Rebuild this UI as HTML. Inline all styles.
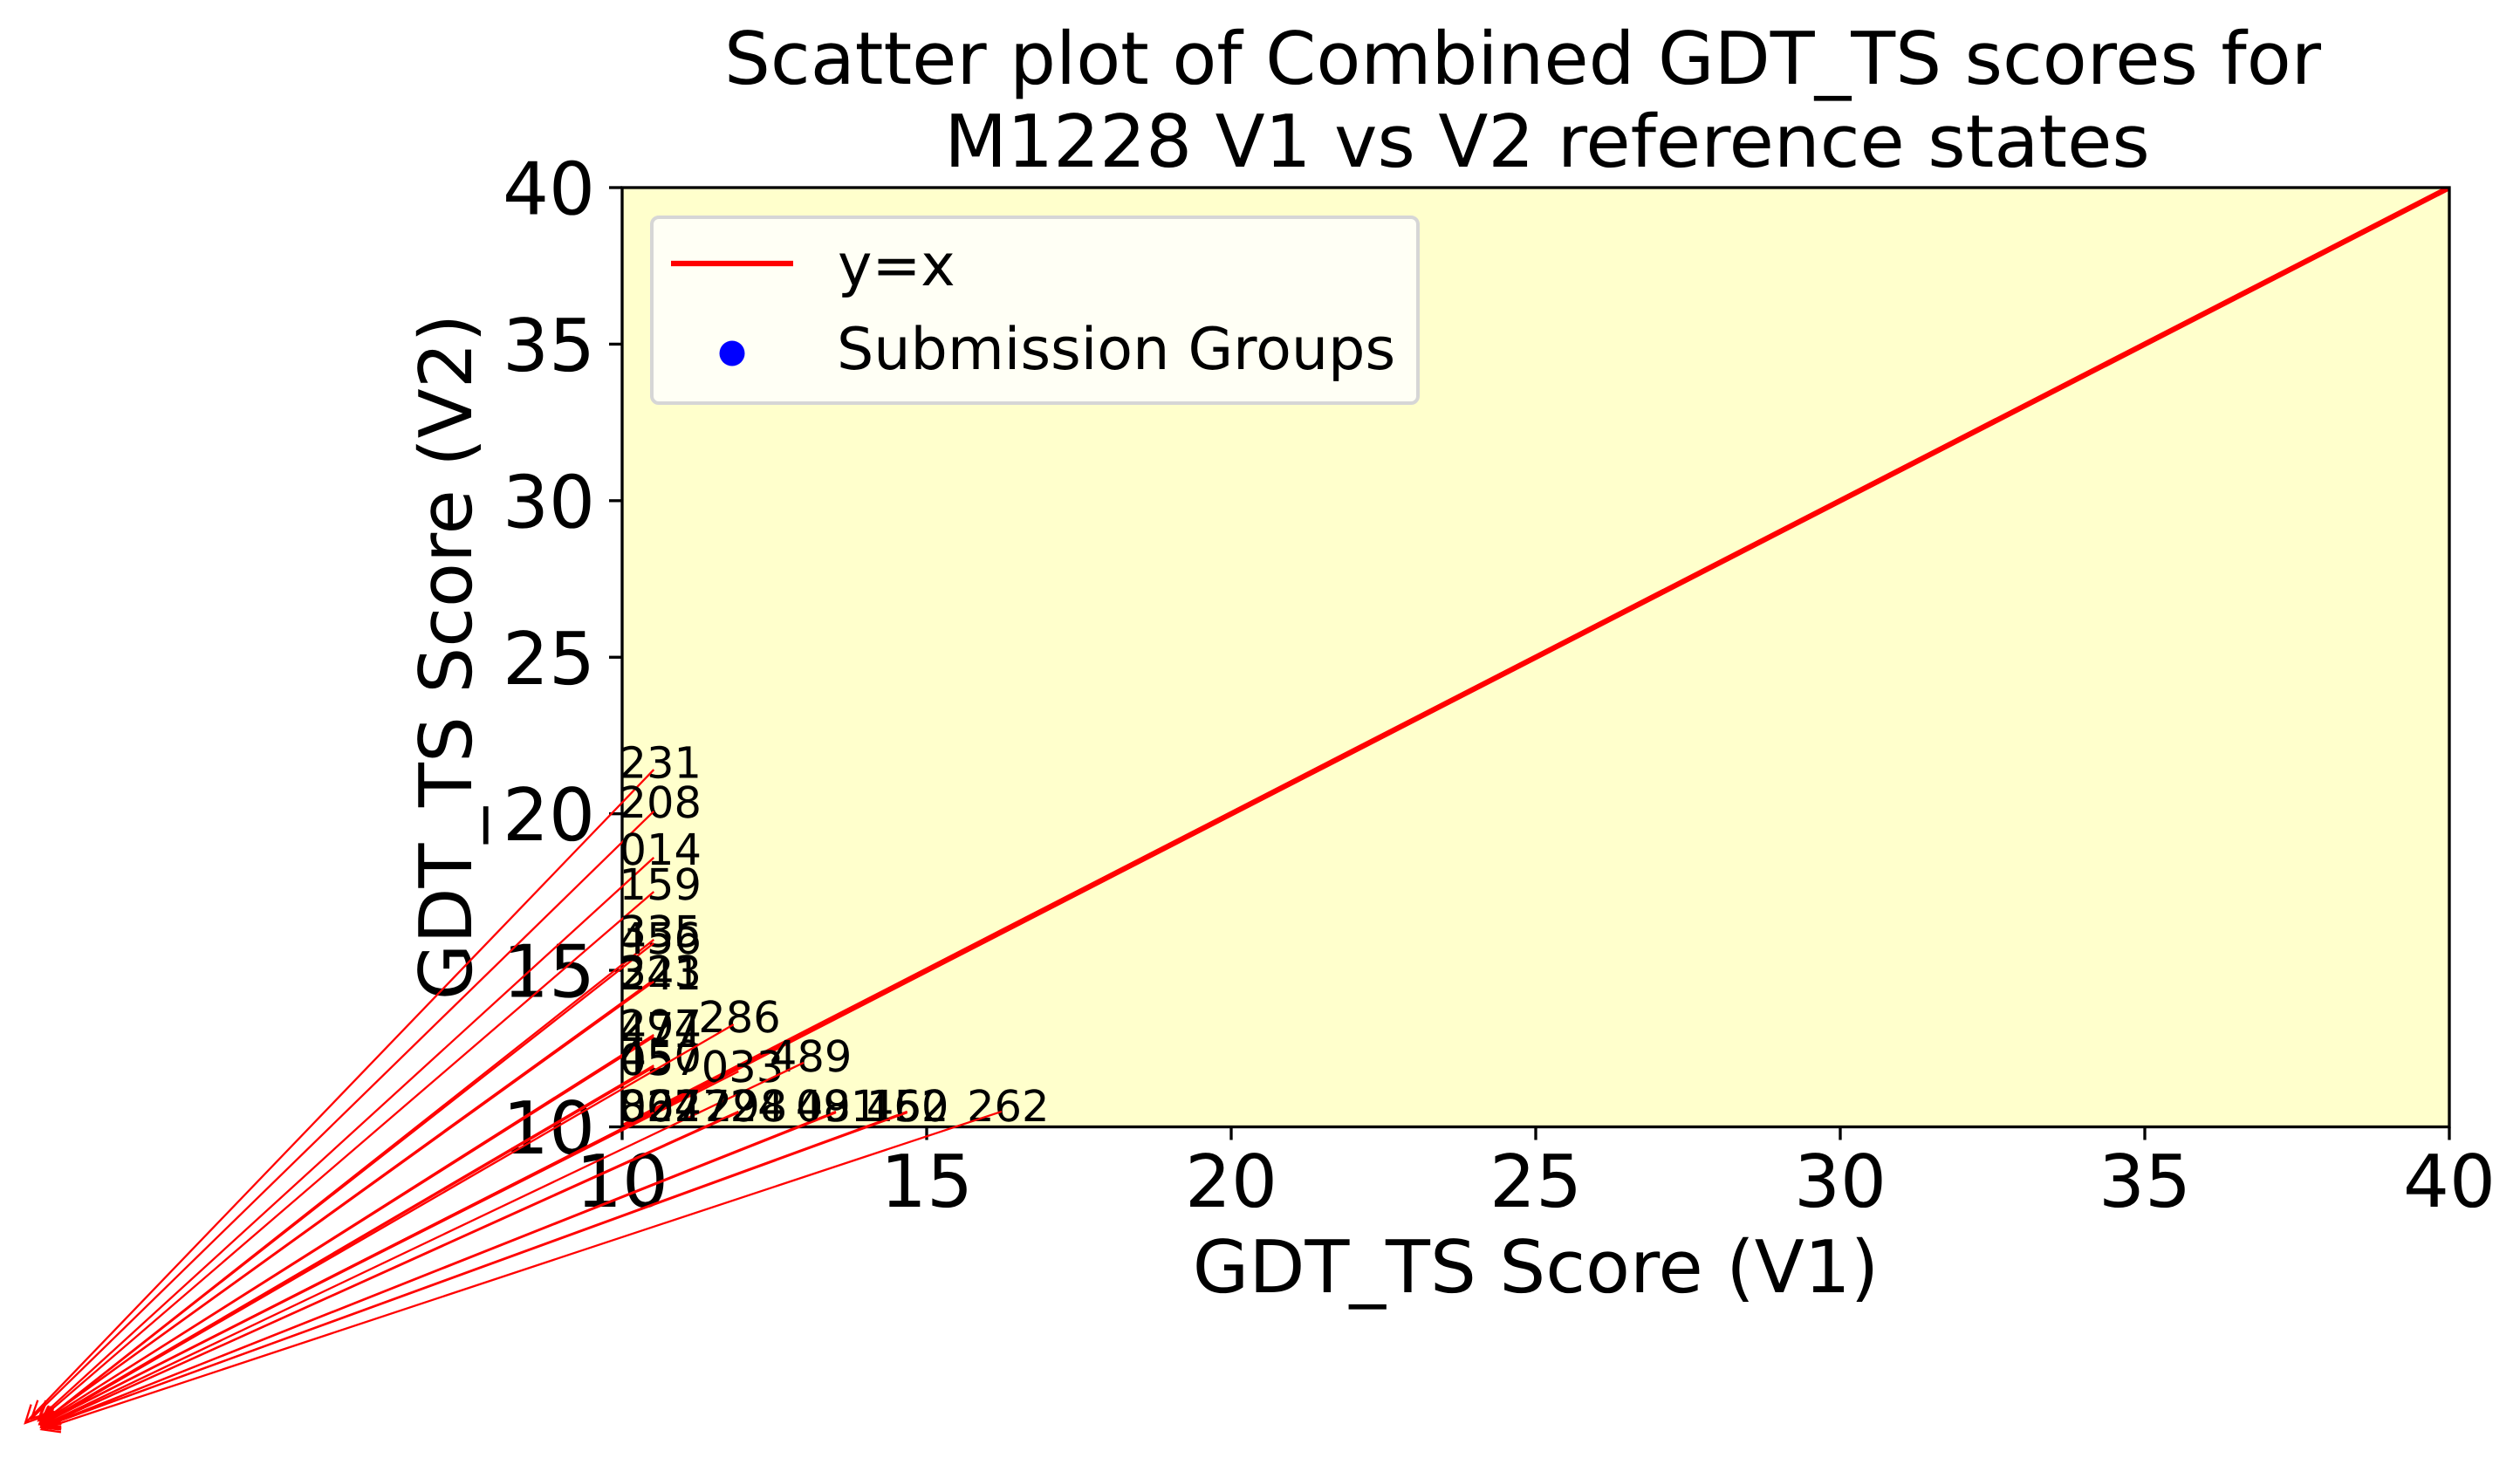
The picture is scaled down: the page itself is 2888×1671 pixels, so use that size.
<!DOCTYPE html>
<html lang="en">
<head>
<meta charset="utf-8">
<title>Scatter plot of Combined GDT_TS scores</title>
<style>
html,body{margin:0;padding:0;background:#fff;}
svg{display:block;}
text{font-family:"DejaVu Sans",sans-serif;fill:#000;text-rendering:geometricPrecision;}
</style>
</head>
<body>
<svg id="chart" xmlns="http://www.w3.org/2000/svg" width="2888" height="1671" viewBox="0 0 2888 1671">
  <defs>
    <clipPath id="axes-clip"><rect x="713" y="215" width="2094" height="1076.5"></rect></clipPath>
  </defs>
  <rect x="0" y="0" width="2888" height="1671" fill="#ffffff"></rect>
  <rect x="713" y="215" width="2094" height="1076.5" fill="#ffffcc"></rect>
  <g id="diagonal-layer" clip-path="url(#axes-clip)"></g>
  <g id="points-layer" clip-path="url(#axes-clip)"></g>
  <g id="ticks-layer"></g>
  <rect x="713" y="215" width="2094" height="1076.5" fill="none" stroke="#000" stroke-width="3.33"></rect>
  <text x="1745" y="96" font-size="83.33" text-anchor="middle">Scatter plot of Combined GDT_TS scores for</text>
  <text x="1773" y="191" font-size="83.33" text-anchor="middle">M1228 V1 vs V2 reference states</text>
  <text x="1760" y="1481" font-size="83.33" text-anchor="middle">GDT_TS Score (V1)</text>
  <text transform="translate(540 753) rotate(-90)" x="0" y="0" font-size="83.33" text-anchor="middle">GDT_TS Score (V2)</text>
  <g id="annotations-layer"></g>
  <g>
    <rect x="747" y="249" width="878" height="213" rx="8" ry="8" fill="#fffff5" stroke="#d6d6d6" stroke-width="4"></rect>
    <line x1="769" y1="302" x2="909" y2="302" stroke="#ff0000" stroke-width="6.25"></line>
    <text x="960" y="327" font-size="66.67">y=x</text>
    <circle cx="839" cy="405" r="14.5" fill="#0000ff"></circle>
    <text x="959" y="423" font-size="66.67">Submission Groups</text>
  </g>
</svg>
<script>
var groupIds = ["231","208","014","159","335","456","323","241","297","474","450","057","286","033","489","302","027","864","724","298","491","081","452","160","262"];
var v1Scores = [0.20,0.30,0.42,0.42,0.44,0.44,0.44,0.44,0.46,0.46,0.47,0.47,0.47,0.47,0.47,0.47,0.47,0.47,0.47,0.47,0.47,0.47,0.47,0.47,0.47];
var v2Scores = [0.54,0.68,0.68,0.62,0.51,0.51,0.54,0.54,0.54,0.54,0.51,0.51,0.48,0.51,0.45,0.51,0.51,0.51,0.42,0.42,0.40,0.40,0.40,0.40,0.34];
var labelV1 = [9.95,9.95,9.95,9.95,9.95,9.95,9.95,9.95,9.95,9.95,9.95,9.95,11.25,11.30,12.42,9.95,9.95,9.95,11.32,11.36,12.85,12.85,14.01,14.01,15.66];
var labelV2 = [21.15,19.88,18.38,17.26,15.76,15.53,14.47,14.39,12.75,12.66,11.77,11.66,13.02,11.44,11.77,10.18,10.18,10.18,10.18,10.18,10.18,10.18,10.18,10.18,10.18];
var tailV1 = [10.52,10.52,10.52,10.52,10.52,10.52,10.52,10.52,10.52,10.52,10.52,10.52,11.83,11.91,12.98,10.52,10.52,10.52,11.91,11.91,13.51,13.51,14.68,14.68,16.23];
var tailV2 = [21.41,20.08,18.60,17.51,15.98,15.87,14.70,14.64,12.94,12.88,11.96,11.91,13.27,11.77,12.05,10.46,10.46,10.46,10.46,10.49,10.49,10.46,10.49,10.46,10.49];
var xTickLabels = [10,15,20,25,30,35,40];
var yTickLabels = [10,15,20,25,30,35,40];
var diagonalEnds = [10,40];

var NS = 'http://www.w3.org/2000/svg';
function xScale(v){ return 713 + (v - 10) * (2094 / 30); }
function yScale(v){ return 1291.5 - (v - 10) * (1076.5 / 30); }
function make(tag, parent){
  var el = document.createElementNS(NS, tag);
  parent.appendChild(el);
  return el;
}

var diagonalLayer = document.getElementById('diagonal-layer');
var diagonal = make('line', diagonalLayer);


diagonal.setAttribute('x1', xScale(diagonalEnds[0]));
diagonal.setAttribute('y1', yScale(diagonalEnds[0]));
diagonal.setAttribute('x2', xScale(diagonalEnds[1]));
diagonal.setAttribute('y2', yScale(diagonalEnds[1]));
diagonal.setAttribute('stroke', '#ff0000');
diagonal.setAttribute('stroke-width', '6.25');

var pointsLayer = document.getElementById('points-layer');
groupIds.forEach(function(id, i){
  var point = make('circle', pointsLayer);
  
  
  point.setAttribute('cx', xScale(v1Scores[i]));
  point.setAttribute('cy', yScale(v2Scores[i]));
  point.setAttribute('r', '14.5');
  point.setAttribute('fill', '#0000ff');
});

var ticksLayer = document.getElementById('ticks-layer');
xTickLabels.forEach(function(v){
  var px = xScale(v);
  var tick = make('line', ticksLayer);
  
  
  tick.setAttribute('x1', px);
  tick.setAttribute('x2', px);
  tick.setAttribute('y1', 1291.5);
  tick.setAttribute('y2', 1306.5);
  tick.setAttribute('stroke', '#000');
  tick.setAttribute('stroke-width', '3.33');
  var label = make('text', ticksLayer);
  
  
  label.setAttribute('x', px);
  label.setAttribute('y', 1383);
  label.setAttribute('font-size', '83.33');
  label.setAttribute('text-anchor', 'middle');
  label.textContent = String(v);
});
yTickLabels.forEach(function(v){
  var py = yScale(v);
  var tick = make('line', ticksLayer);
  
  
  tick.setAttribute('x1', 698);
  tick.setAttribute('x2', 713);
  tick.setAttribute('y1', py);
  tick.setAttribute('y2', py);
  tick.setAttribute('stroke', '#000');
  tick.setAttribute('stroke-width', '3.33');
  var label = make('text', ticksLayer);
  
  
  label.setAttribute('x', 682);
  label.setAttribute('y', py + 30.5);
  label.setAttribute('font-size', '83.33');
  label.setAttribute('text-anchor', 'end');
  label.textContent = String(v);
});

var annotationsLayer = document.getElementById('annotations-layer');
groupIds.forEach(function(id, i){
  var label = make('text', annotationsLayer);
  
  
  label.setAttribute('x', xScale(labelV1[i]));
  label.setAttribute('y', yScale(labelV2[i]));
  label.setAttribute('font-size', '49.5');
  label.textContent = id;

  var tipX = xScale(v1Scores[i]);
  var tipY = yScale(v2Scores[i]);
  var endX = xScale(tailV1[i]);
  var endY = yScale(tailV2[i]);
  var dx = endX - tipX;
  var dy = endY - tipY;
  var len = Math.sqrt(dx * dx + dy * dy);
  var ux = dx / len;
  var uy = dy / len;
  var a1x = tipX + 20 * ux - 10 * uy;
  var a1y = tipY + 20 * uy + 10 * ux;
  var a2x = tipX + 20 * ux + 10 * uy;
  var a2y = tipY + 20 * uy - 10 * ux;
  var arrow = make('path', annotationsLayer);
  
  
  arrow.setAttribute('d', 'M' + endX + ' ' + endY + 'L' + tipX + ' ' + tipY + 'M' + a1x + ' ' + a1y + 'L' + tipX + ' ' + tipY + 'L' + a2x + ' ' + a2y);
  arrow.setAttribute('fill', 'none');
  arrow.setAttribute('stroke', '#ff0000');
  arrow.setAttribute('stroke-width', '2.3');
});
</script>
</body>
</html>
